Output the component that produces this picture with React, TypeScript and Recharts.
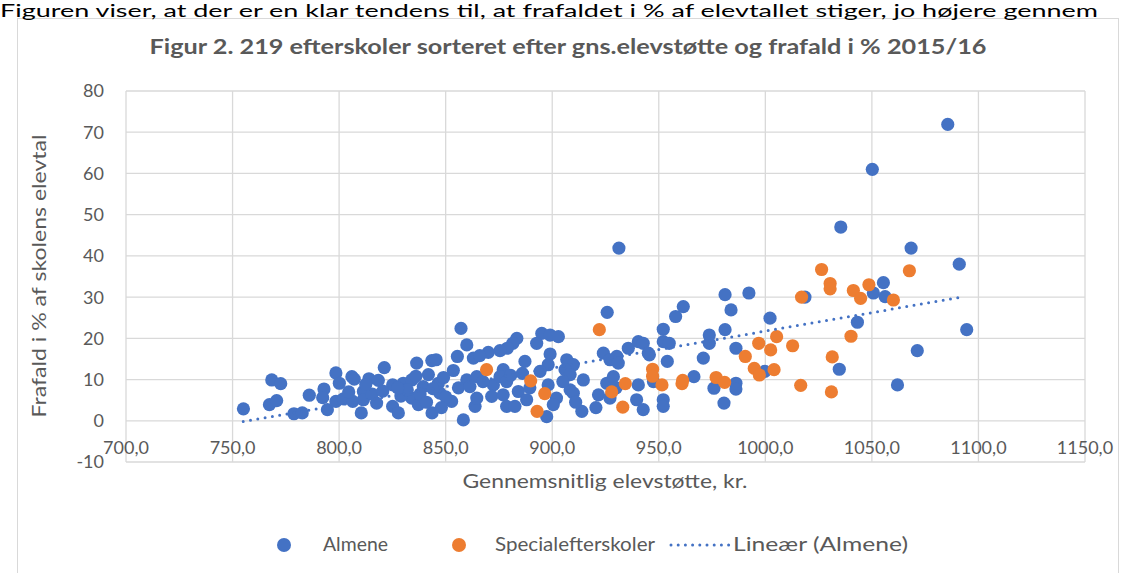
import { ScatterChart, Scatter, XAxis, YAxis, CartesianGrid } from "recharts"

// Almene efterskoler: gns. elevstøtte (kr.) og frafald (%)
const almeneX = [
  755.1, 768.4, 772.6, 767.3, 770.7, 778.8, 782.7, 786.0, 792.9, 792.3,
  794.5, 798.5, 800.1, 798.5, 802.0, 806.0, 807.1, 806.4, 810.4, 811.4,
  811.4, 814.0, 818.4, 817.6, 821.2, 825.1, 825.1, 827.8, 830.1, 834.1,
  834.1, 836.4, 837.2, 839.5, 841.9, 843.5, 845.5, 843.6, 846.6, 847.3,
  852.8, 853.6, 855.5, 859.9, 857.2, 858.3, 859.9, 863.0, 863.8, 815.5,
  820.5, 829.0, 832.0, 838.0, 841.0, 844.0, 849.0, 850.0, 856.0, 827.5,
  836.0, 848.0, 804.5, 812.5, 895.1, 899.0, 902.9, 883.4, 881.5, 878.9,
  875.5, 870.0, 866.0, 892.7, 899.0, 887.2, 898.1, 906.8, 909.9, 906.0,
  908.4, 914.6, 924.0, 927.1, 930.3, 931.0, 935.7, 940.4, 942.7, 945.1,
  864.6, 861.4, 864.6, 872.4, 877.0, 875.5, 878.6, 871.6, 877.0, 878.6,
  882.5, 884.1, 888.0, 894.3, 898.1, 902.0, 900.5, 897.4, 908.4, 909.9,
  913.9, 920.5, 921.7, 925.6, 928.7, 927.1, 939.6, 942.7, 940.4, 925.8,
  931.3, 867.5, 880.5, 889.5, 905.0, 930.0, 911.0, 886.0, 952.1, 952.1,
  954.9, 945.6, 954.0, 952.1, 952.1, 947.5, 957.9, 961.5, 966.5, 970.9,
  973.7, 973.7, 975.9, 980.6, 981.1, 981.1, 983.9, 986.2, 986.2, 986.2,
  992.3, 1002.2, 999.8, 1018.6, 1068.4, 1091.0, 1055.4, 1050.7, 1056.2, 1043.2,
  1094.5, 1071.3, 1034.7, 1062.0, 1085.6, 1050.2, 1035.4,
]
const almeneY = [
  2.9, 9.9, 9.0, 3.9, 4.9, 1.7, 1.9, 6.2, 7.7, 5.6,
  2.7, 11.6, 9.1, 4.7, 5.3, 10.7, 10.1, 4.7, 1.9, 7.1,
  5.1, 10.2, 9.8, 4.3, 12.9, 8.7, 3.5, 1.9, 9.1, 9.9,
  5.5, 14.0, 3.9, 8.3, 11.2, 14.6, 14.8, 1.9, 9.1, 6.7,
  4.7, 12.2, 15.6, 18.4, 22.4, 0.2, 9.9, 15.2, 3.5, 6.5,
  7.2, 6.0, 7.5, 6.5, 4.5, 7.8, 10.5, 5.8, 8.0, 8.0,
  10.8, 3.2, 7.0, 8.8, 21.2, 20.8, 20.4, 20.0, 18.8, 17.6,
  17.0, 16.6, 15.8, 18.8, 16.2, 14.4, 13.6, 14.8, 13.6, 12.4,
  11.2, 9.9, 16.4, 14.8, 15.6, 14.0, 17.6, 19.2, 18.8, 16.4,
  10.7, 8.3, 5.5, 8.7, 12.4, 10.7, 9.5, 5.9, 6.3, 3.5,
  3.5, 7.1, 5.1, 12.0, 8.7, 5.5, 3.9, 1.0, 7.5, 6.7,
  2.3, 3.2, 6.3, 9.1, 10.7, 5.5, 5.1, 2.7, 8.7, 26.3,
  41.9, 9.5, 11.0, 8.0, 9.5, 8.0, 4.5, 11.5, 22.2, 19.2,
  18.8, 16.0, 14.4, 5.1, 3.5, 9.5, 25.3, 27.7, 10.7, 15.2,
  20.8, 18.8, 7.9, 4.3, 22.1, 30.6, 26.9, 17.6, 9.1, 7.7,
  31.0, 24.9, 12.0, 30.0, 41.9, 38.0, 33.5, 31.0, 30.1, 23.9,
  22.1, 17.0, 12.5, 8.7, 71.9, 61.0, 47.0,
]

// Specialefterskoler
const specialX = [
  869.2, 889.9, 896.5, 892.9, 922.1, 927.9, 934.3, 933.1, 947.1, 947.1,
  951.5, 960.9, 961.2, 976.9, 980.9, 990.6, 996.9, 994.8, 997.2, 1004.1,
  1002.5, 1005.3, 1012.8, 1017.0, 1016.6, 1026.4, 1030.4, 1030.4, 1031.4, 1031.0,
  1040.2, 1041.3, 1044.7, 1048.6, 1060.1, 1067.6,
]
const specialY = [
  12.4, 9.7, 6.6, 2.3, 22.1, 7.0, 9.0, 3.3, 12.5, 10.8,
  8.7, 9.0, 9.8, 10.5, 9.3, 15.6, 18.8, 12.7, 11.1, 12.4,
  17.2, 20.4, 18.2, 30.0, 8.6, 36.7, 33.3, 32.0, 15.5, 7.0,
  20.5, 31.6, 29.7, 33.0, 29.3, 36.4,
]

// Lineær tendenslinje (Almene), endepunkter aflæst
const trendX = [755, 1092]
const trendY = [-0.2, 30]

const xTicks = [700, 750, 800, 850, 900, 950, 1000, 1050, 1100, 1150]
const yTicks = [-10, 0, 10, 20, 30, 40, 50, 60, 70, 80]

const BLUE = "#4472C4"
const ORANGE = "#ED7D31"
const GREY = "#595959"
const FONT = "Lato, 'Open Sans', sans-serif"

const almene = almeneX.map((x, i) => ({ x, y: almeneY[i] }))
const special = specialX.map((x, i) => ({ x, y: specialY[i] }))
const trend = trendX.map((x, i) => ({ x, y: trendY[i] }))

const dot = (color: string) => (props: any) =>
  <circle cx={props.cx} cy={props.cy} r={6.6} fill={color} />

function XTick({ x, y, payload }: any) {
  return (
    <text x={x} y={y - 8} textAnchor="middle" fill={GREY} fontSize={18} fontFamily={FONT}>
      {payload.value.toFixed(1).replace(".", ",")}
    </text>
  )
}

export default function App() {
  return (
    <div style={{ position: "absolute", left: 0, top: 0, width: 1131, height: 573, overflow: "hidden", background: "#fff" }}>
      <div style={{ position: "absolute", left: 17, top: 18, width: 1100, height: 600, border: "1px solid #d9d9d9" }} />
      <div style={{ position: "absolute", left: 0, top: 0 }}>
        <ScatterChart width={1131} height={573} margin={{ top: 91, right: 46, bottom: 81, left: 66 }}>
          <CartesianGrid stroke="#d9d9d9" strokeWidth={1.3} />
          <XAxis
            type="number"
            dataKey="x"
            domain={[700, 1150]}
            ticks={xTicks}
            interval={0}
            height={30}
            axisLine={false}
            tickLine={false}
            tickSize={0}
            tickMargin={0}
            tick={<XTick />}
          />
          <YAxis
            type="number"
            dataKey="y"
            domain={[-10, 80]}
            ticks={yTicks}
            interval={0}
            width={60}
            axisLine={false}
            tickLine={false}
            tickSize={0}
            tickMargin={22}
            tick={{ fill: GREY, fontSize: 18, fontFamily: FONT }}
          />
          <Scatter data={almene} shape={dot(BLUE)} isAnimationActive={false} />
          <Scatter data={special} shape={dot(ORANGE)} isAnimationActive={false} />
          <Scatter
            data={trend}
            shape={() => <g />}
            line={{ stroke: BLUE, strokeWidth: 3, strokeDasharray: "0 7.4", strokeLinecap: "round" }}
            isAnimationActive={false}
          />
        </ScatterChart>
      </div>
      <svg width={1131} height={573} style={{ position: "absolute", left: 0, top: 0, pointerEvents: "none" }} fontFamily={FONT}>
        <text x={0} y={17} fontSize={17} fill="#000" textLength={1098} lengthAdjust="spacingAndGlyphs">
          Figuren viser, at der er en klar tendens til, at frafaldet i % af elevtallet stiger, jo højere gennem
        </text>
        <text x={568} y={54} textAnchor="middle" fontSize={20} fontWeight="bold" fill={GREY} textLength={837} lengthAdjust="spacingAndGlyphs">
          Figur 2. 219 efterskoler sorteret efter gns.elevstøtte og frafald i % 2015/16
        </text>
        <text x={0} y={0} transform="translate(46 276) rotate(-90)" textAnchor="middle" fontSize={19} fill={GREY} textLength={283} lengthAdjust="spacingAndGlyphs">
          Frafald i % af skolens elevtal
        </text>
        <text x={605} y={488} textAnchor="middle" fontSize={19} fill={GREY} textLength={285} lengthAdjust="spacingAndGlyphs">
          Gennemsnitlig elevstøtte, kr.
        </text>
        <circle cx={284} cy={545} r={7} fill={BLUE} />
        <text x={323} y={551} fontSize={19} fill={GREY} textLength={65} lengthAdjust="spacingAndGlyphs">Almene</text>
        <circle cx={459} cy={545} r={7} fill={ORANGE} />
        <text x={495} y={551} fontSize={19} fill={GREY} textLength={160} lengthAdjust="spacingAndGlyphs">Specialefterskoler</text>
        <line x1={671} y1={545} x2={729} y2={545} stroke={BLUE} strokeWidth={3} strokeDasharray="0 7.2" strokeLinecap="round" />
        <text x={733} y={551} fontSize={19} fill={GREY} textLength={175} lengthAdjust="spacingAndGlyphs">Lineær (Almene)</text>
      </svg>
    </div>
  )
}
